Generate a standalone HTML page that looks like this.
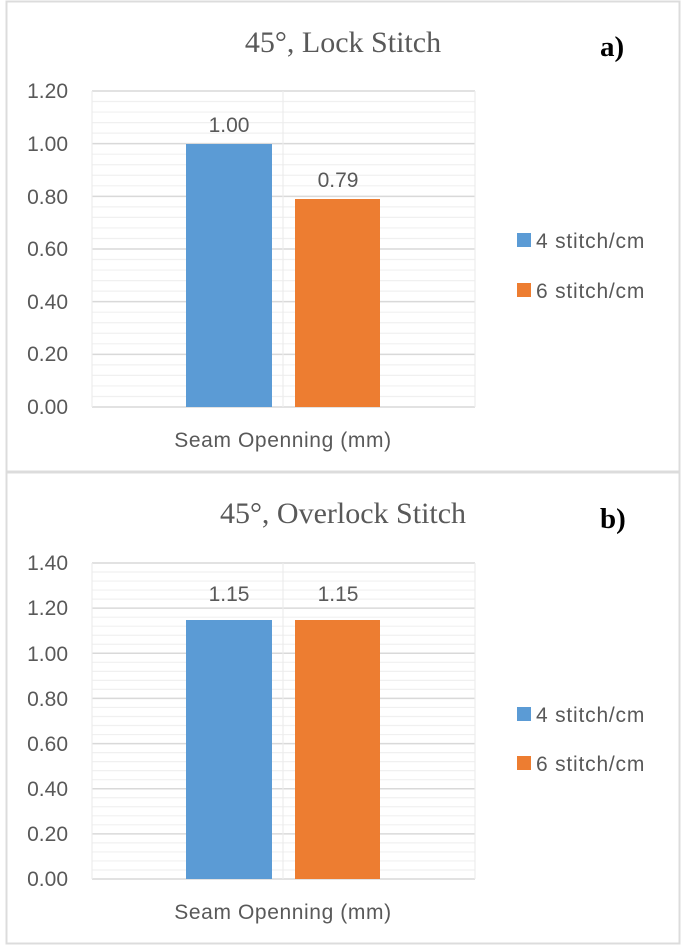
<!DOCTYPE html>
<html><head><meta charset="utf-8"><style>
html,body{margin:0;padding:0;background:#fff}
svg{display:block}
.t{font-family:"Liberation Sans",sans-serif;fill:#595959;font-size:21px}
.lg{font-family:"Liberation Sans",sans-serif;fill:#595959;font-size:21px;letter-spacing:0.8px}
.ax{font-family:"Liberation Sans",sans-serif;fill:#595959;font-size:21px;letter-spacing:0.6px}
.ti{font-family:"Liberation Serif",serif;fill:#595959;font-size:30px}
.lb{font-family:"Liberation Serif",serif;fill:#000;font-size:29px;font-weight:bold}
</style></head><body>
<svg width="683" height="946" viewBox="0 0 683 946" xmlns="http://www.w3.org/2000/svg">
<rect x="0" y="0" width="683" height="946" fill="#fff"/>
<rect x="6.5" y="1.5" width="673" height="470" fill="none" stroke="#dcdcdc" stroke-width="2"/>
<rect x="6.5" y="472.5" width="673" height="471" fill="none" stroke="#dcdcdc" stroke-width="2"/>

<text class="ti" x="343" y="52" text-anchor="middle">45°, Lock Stitch</text>
<text class="lb" x="600" y="56">a)</text>
<g class="t" text-anchor="end">
<text x="68" y="98">1.20</text><text x="68" y="151">1.00</text><text x="68" y="204">0.80</text>
<text x="68" y="256">0.60</text><text x="68" y="309">0.40</text><text x="68" y="361">0.20</text><text x="68" y="414">0.00</text>
</g>
<rect x="186" y="144" width="86" height="263" fill="#5b9bd5"/>
<rect x="295" y="199" width="85" height="208" fill="#ed7d31"/>
<text class="t" x="229" y="132" text-anchor="middle">1.00</text>
<text class="t" x="338" y="187" text-anchor="middle">0.79</text>
<text class="ax" x="283" y="447" text-anchor="middle">Seam Openning (mm)</text>
<rect x="517" y="233" width="14" height="14" fill="#5b9bd5"/>
<text class="lg" x="536" y="248">4 stitch/cm</text>
<rect x="517" y="283" width="14" height="14" fill="#ed7d31"/>
<text class="lg" x="536" y="298">6 stitch/cm</text>

<text class="ti" x="343" y="523" text-anchor="middle">45°, Overlock Stitch</text>
<text class="lb" x="600" y="528">b)</text>
<g class="t" text-anchor="end">
<text x="68" y="570">1.40</text><text x="68" y="615">1.20</text><text x="68" y="661">1.00</text>
<text x="68" y="706">0.80</text><text x="68" y="751">0.60</text><text x="68" y="796">0.40</text>
<text x="68" y="841">0.20</text><text x="68" y="886">0.00</text>
</g>
<rect x="186" y="620" width="86" height="259" fill="#5b9bd5"/>
<rect x="295" y="620" width="85" height="259" fill="#ed7d31"/>
<text class="t" x="229" y="601" text-anchor="middle">1.15</text>
<text class="t" x="338" y="601" text-anchor="middle">1.15</text>
<text class="ax" x="283" y="919" text-anchor="middle">Seam Openning (mm)</text>
<rect x="517" y="707" width="14" height="14" fill="#5b9bd5"/>
<text class="lg" x="536" y="722">4 stitch/cm</text>
<rect x="517" y="756" width="14" height="14" fill="#ed7d31"/>
<text class="lg" x="536" y="771">6 stitch/cm</text>
</svg>
<script>
(function(){
var ns="http://www.w3.org/2000/svg",svg=document.querySelector("svg");
function grid(top,bot,max){
  var g=document.createElementNS(ns,"g");
  var n=Math.round(max/0.04);
  for(var i=0;i<=n;i++){
    var y=bot-(bot-top)*i/n;var major=(i%5===0);
    var l=document.createElementNS(ns,"line");
    l.setAttribute("x1",92);l.setAttribute("x2",475);l.setAttribute("y1",y);l.setAttribute("y2",y);
    l.setAttribute("stroke",major?"#d9d9d9":"#f0f0f0");l.setAttribute("stroke-width",major?1.5:1.2);
    g.appendChild(l);
  }
  [92,283,475].forEach(function(x){
    var l=document.createElementNS(ns,"line");
    l.setAttribute("x1",x);l.setAttribute("x2",x);l.setAttribute("y1",top);l.setAttribute("y2",bot);
    l.setAttribute("stroke","#ececec");l.setAttribute("stroke-width",1.2);g.appendChild(l);
  });
  svg.insertBefore(g,svg.children[3]);
}
grid(91,407,1.2);grid(563,879,1.4);
})();
</script>
</body></html>
